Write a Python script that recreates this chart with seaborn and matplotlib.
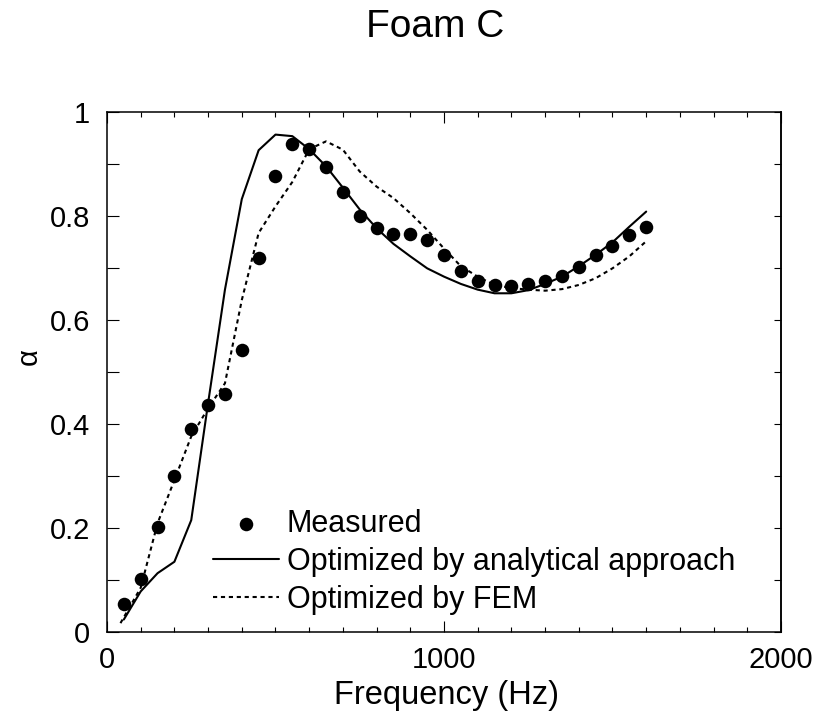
import numpy as np
import pandas as pd
import matplotlib
matplotlib.use("Agg")
import matplotlib.pyplot as plt
from matplotlib.ticker import MultipleLocator
import seaborn as sns

# Measured absorption coefficient (50 Hz steps)
freq_measured = [50, 100, 150, 200, 250, 300, 350, 400, 450, 500, 550, 600,
                 650, 700, 750, 800, 850, 900, 950, 1000, 1050, 1100, 1150,
                 1200, 1250, 1300, 1350, 1400, 1450, 1500, 1550, 1600]
alpha_measured = [0.053, 0.101, 0.201, 0.300, 0.390, 0.437, 0.458, 0.542,
                  0.719, 0.876, 0.938, 0.929, 0.893, 0.845, 0.800, 0.776,
                  0.765, 0.765, 0.754, 0.725, 0.694, 0.674, 0.666, 0.665,
                  0.669, 0.674, 0.685, 0.701, 0.724, 0.741, 0.763, 0.779]

# Model optimized by the analytical approach
freq_analytical = [50, 100, 150, 200, 250, 300, 350, 400, 450, 500, 550, 600,
                   650, 700, 750, 800, 850, 900, 950, 1000, 1050, 1100, 1150,
                   1200, 1250, 1300, 1350, 1400, 1450, 1500, 1550, 1600]
alpha_analytical = [0.024, 0.078, 0.113, 0.135, 0.215, 0.440, 0.658, 0.832,
                    0.926, 0.956, 0.953, 0.928, 0.895, 0.854, 0.812, 0.776,
                    0.746, 0.722, 0.699, 0.683, 0.669, 0.658, 0.651, 0.651,
                    0.657, 0.669, 0.683, 0.703, 0.725, 0.749, 0.779, 0.808]

# Model optimized by FEM
freq_fem = [40, 100, 150, 200, 250, 300, 350, 400, 450, 500, 550, 600, 650,
            700, 750, 800, 850, 900, 950, 1000, 1050, 1100, 1150, 1200, 1250,
            1300, 1350, 1400, 1450, 1500, 1550, 1600]
alpha_fem = [0.017, 0.085, 0.209, 0.292, 0.376, 0.430, 0.478, 0.638, 0.767,
             0.818, 0.865, 0.928, 0.943, 0.927, 0.885, 0.856, 0.834, 0.805,
             0.773, 0.737, 0.703, 0.683, 0.667, 0.661, 0.658, 0.656, 0.659,
             0.667, 0.680, 0.699, 0.722, 0.751]

labels = ["Measured", "Optimized by analytical approach", "Optimized by FEM"]

sns.set_theme(style="ticks")
plt.rcParams["font.family"] = ["Liberation Sans", "DejaVu Sans"]
plt.rcParams.update({
    "axes.linewidth": 1.1,
    "text.color": "black",
    "axes.labelcolor": "black",
    "xtick.color": "black",
    "ytick.color": "black",
    "axes.edgecolor": "black",
})

W, H = 837, 713
fig = plt.figure(figsize=(W / 100, H / 100), dpi=100)
ax = fig.add_axes([107 / W, 1 - 632 / H, (781 - 107) / W, (632 - 111.7) / H])

df_m = pd.DataFrame({"f": freq_measured, "a": alpha_measured})
df_a = pd.DataFrame({"f": freq_analytical, "a": alpha_analytical})
df_f = pd.DataFrame({"f": freq_fem, "a": alpha_fem})

sns.scatterplot(data=df_m, x="f", y="a", ax=ax, color="black", s=95,
                edgecolor="black", linewidth=0, marker="o", label=labels[0],
                zorder=3)
sns.lineplot(data=df_a, x="f", y="a", ax=ax, color="black", linewidth=1.5,
             label=labels[1])
sns.lineplot(data=df_f, x="f", y="a", ax=ax, color="black", linewidth=1.5,
             linestyle=(0, (2.0, 1.8)), label=labels[2])

ax.set_xlim(0, 2000)
ax.set_ylim(0, 1)
ax.xaxis.set_major_locator(MultipleLocator(1000))
ax.xaxis.set_minor_locator(MultipleLocator(100))
ax.yaxis.set_minor_locator(MultipleLocator(0.1))
ax.set_yticks([0, 0.2, 0.4, 0.6, 0.8, 1.0])
ax.set_yticklabels(["0", "0.2", "0.4", "0.6", "0.8", "1"])

ax.tick_params(axis="x", which="major", direction="in", top=True, bottom=True,
               length=8, width=0.8, labelsize=21, pad=10)
ax.tick_params(axis="x", which="minor", direction="in", top=True, bottom=True,
               length=3.6, width=0.8)
ax.tick_params(axis="y", which="both", direction="in", left=True, right=False,
               length=8.6, width=0.8, labelsize=21, pad=12)

# right-hand ticks are shorter than the left ones
sec = ax.secondary_yaxis("right")
sec.yaxis.set_major_locator(MultipleLocator(0.1))
sec.tick_params(direction="in", length=5, width=0.8, labelright=False)
sec.spines["right"].set_linewidth(1.1)

ax.set_xlabel("Frequency (Hz)", fontsize=23.5)
ax.xaxis.set_label_coords(0.504, (632 - 704) / 520.3)
ax.xaxis.label.set_va("baseline")

ax.set_ylabel("α", fontsize=21)
ax.yaxis.set_label_coords((29 - 107) / 674, (632 - 357) / 520.3)
ax.yaxis.label.set_va("center")

handles, _ = ax.get_legend_handles_labels()
ax.legend(handles, labels, loc="upper left",
          bbox_to_anchor=(213 / W, 1 - 509 / H), bbox_transform=fig.transFigure,
          frameon=False, fontsize=22, handlelength=2.16, handletextpad=0.26,
          labelspacing=0.26, borderpad=0, borderaxespad=0, markerscale=1.0)

fig.text(435 / W, 1 - 37 / H, "Foam C", ha="center", va="baseline",
         fontsize=28)

fig.savefig("out.png", dpi=100)
